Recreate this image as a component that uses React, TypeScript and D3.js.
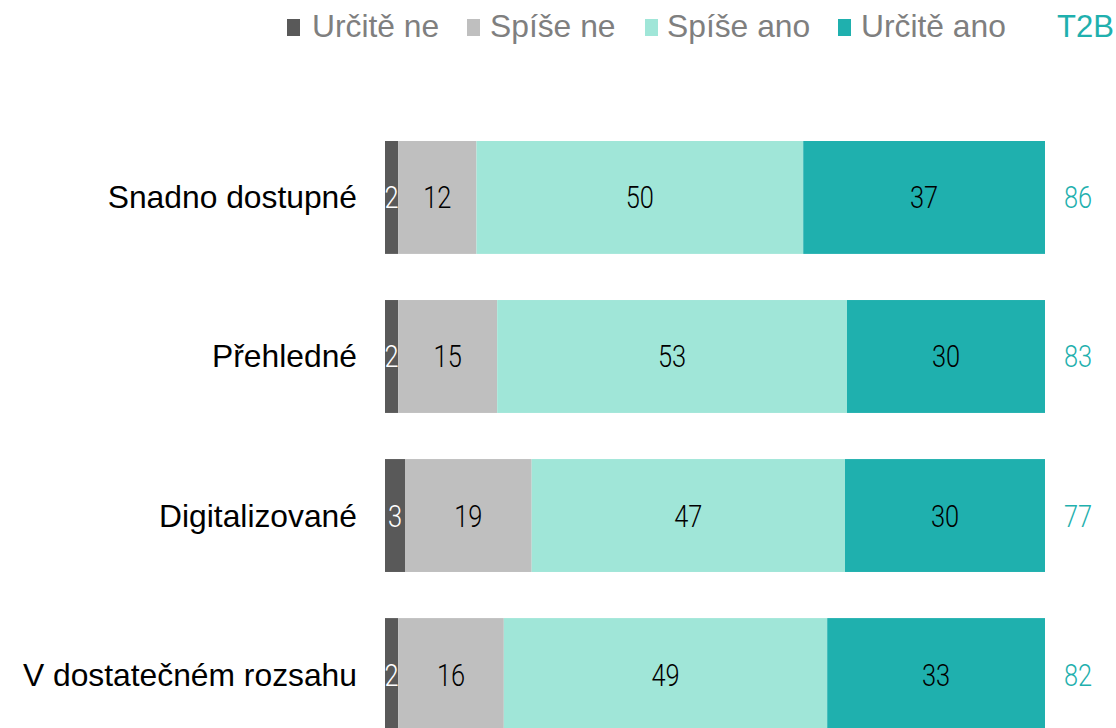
import React from "react";
import * as d3 from "d3";

const categories = ["Snadno dostupné", "Přehledné", "Digitalizované", "V dostatečném rozsahu"];
const seriesNames = ["Určitě ne", "Spíše ne", "Spíše ano", "Určitě ano"];
const urciteNe = [2, 2, 3, 2];
const spiseNe = [12, 15, 19, 16];
const spiseAno = [50, 53, 47, 49];
const urciteAno = [37, 30, 30, 33];
const t2b = [86, 83, 77, 82];
const t2bLabel = "T2B";

const colors = ["#595959", "#BFBFBF", "#A0E6D8", "#1FB0AE"];
const labelColors = ["#FFFFFF", "#000000", "#000000", "#000000"];
const teal = "#1FB0AE";

const W = 1116;
const H = 728;

export default function App() {
  const rows = categories.map((c, i) => ({
    cat: c,
    [seriesNames[0]]: urciteNe[i],
    [seriesNames[1]]: spiseNe[i],
    [seriesNames[2]]: spiseAno[i],
    [seriesNames[3]]: urciteAno[i],
  }));
  const stack = d3.stack<any>().keys(seriesNames).offset(d3.stackOffsetExpand);
  const series = stack(rows);

  const x = d3.scaleLinear().domain([0, 1]).range([385, 1045]);
  const y = d3.scaleBand<string>().domain(categories).range([141, 731]).paddingInner(0.29).paddingOuter(0);

  const legendItems = [
    { sq: 287, tx: 312 },
    { sq: 467, tx: 490 },
    { sq: 645, tx: 667 },
    { sq: 838, tx: 861 },
  ];

  const numFont = "Roboto, sans-serif";
  const txtFont = "'Liberation Sans', Arial, sans-serif";

  return (
    <div style={{ position: "absolute", left: 0, top: 0 }}>
      <svg width={W} height={H} style={{ display: "block", overflow: "hidden" }}>
        <rect width={W} height={H} fill="#FFFFFF" />
        {/* legend */}
        {seriesNames.map((n, i) => (
          <g key={n}>
            <rect x={legendItems[i].sq} y={19} width={13} height={17} fill={colors[i]} />
            <text x={legendItems[i].tx} y={37} fontFamily={txtFont} fontSize={31.8} fill="#7F7F7F">
              {n}
            </text>
          </g>
        ))}
        <text x={1057} y={37} fontFamily={txtFont} fontSize={31} fill={teal}>
          {t2bLabel}
        </text>
        {/* bars */}
        {series.map((s, si) => (
          <g key={s.key}>
            {s.map((d, i) => {
              const cat = categories[i];
              const x0 = x(d[0]);
              const x1 = x(d[1]);
              const yy = y(cat)!;
              const cx = (x0 + x1) / 2;
              const cy = yy + y.bandwidth() / 2;
              const val = [urciteNe, spiseNe, spiseAno, urciteAno][si][i];
              return (
                <g key={cat}>
                  <rect x={x0} y={yy} width={x1 - x0} height={y.bandwidth()} fill={colors[si]} />
                  <text
                    transform={`translate(${cx},${cy + 11}) scale(0.82,1)`}
                    textAnchor="middle"
                    fontFamily={numFont}
                    fontWeight={300}
                    fontSize={31}
                    fill={labelColors[si]}
                  >
                    {val}
                  </text>
                </g>
              );
            })}
          </g>
        ))}
        {/* category labels */}
        {categories.map((c) => (
          <text
            key={c}
            x={357}
            y={y(c)! + y.bandwidth() / 2 + 11}
            textAnchor="end"
            fontFamily={txtFont}
            fontSize={31.8}
            fill="#000000"
          >
            {c}
          </text>
        ))}
        {/* T2B values */}
        {categories.map((c, i) => (
          <text
            key={c}
            transform={`translate(1078,${y(c)! + y.bandwidth() / 2 + 11}) scale(0.82,1)`}
            textAnchor="middle"
            fontFamily={numFont}
            fontWeight={300}
            fontSize={31}
            fill={teal}
          >
            {t2b[i]}
          </text>
        ))}
      </svg>
    </div>
  );
}
